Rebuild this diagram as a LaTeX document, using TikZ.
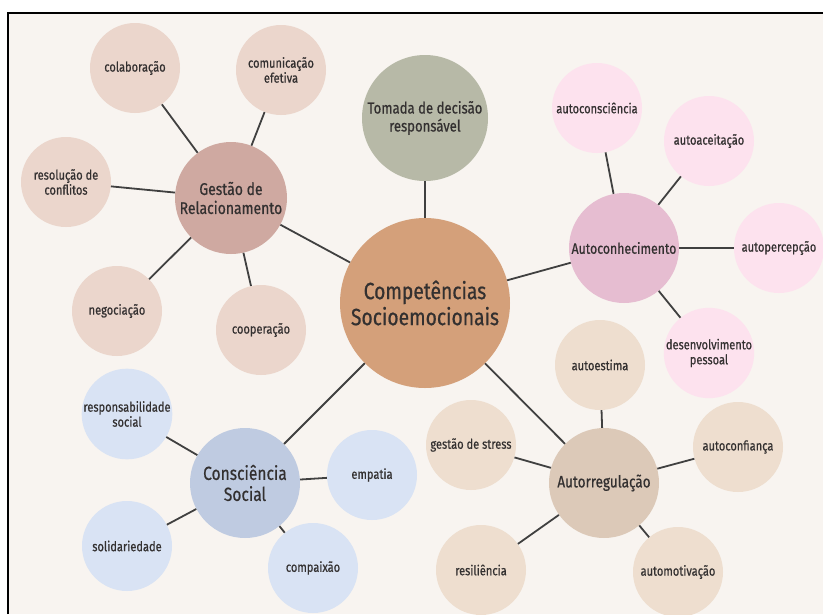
\documentclass[tikz,border=0pt]{standalone}
\usepackage{fontspec}
\setmainfont{Fira Sans}[FakeStretch=0.82, FakeBold=0.6]
\usepackage{tikz}
\usetikzlibrary{positioning,calc}

\definecolor{paper}{HTML}{F8F4F0}
\definecolor{ink}{HTML}{333030}
\definecolor{wire}{HTML}{404040}
\definecolor{coreC}{HTML}{D4A07A}
\definecolor{tomadaC}{HTML}{B7B9A7}
\definecolor{gestaoC}{HTML}{CFA9A1}
\definecolor{gestaoL}{HTML}{EBD6CC}
\definecolor{autoC}{HTML}{E6BDD1}
\definecolor{autoL}{HTML}{FDE2EE}
\definecolor{regC}{HTML}{DCC9B8}
\definecolor{regL}{HTML}{EEDECF}
\definecolor{socC}{HTML}{BFCBE1}
\definecolor{socL}{HTML}{D9E3F4}

\begin{document}
\begin{tikzpicture}[
			x=1pt, y=-1pt,
			ball/.style={circle, inner sep=0pt, text=ink, align=center},
			core/.style={ball, fill=coreC, minimum size=170pt, font=\fontsize{23.5}{26}\selectfont},
			hub/.style={ball, minimum size=110pt, font=\fontsize{16}{18}\selectfont},
			leaf/.style={ball, minimum size=90pt, font=\fontsize{13.5}{15}\selectfont},
			wire/.style={draw=wire, line width=1.8pt}]
		% fundo e moldura
		\useasboundingbox (0,0) rectangle (823,614);
		\fill[white] (0,0) rectangle (823,614);
		\fill[paper] (8,13) rectangle (823,614);
		\draw[black, line width=2.5pt] (8,614) -- (8,13) -- (823,13);

		% centro
		\path 	(425,303) node (comp) [core] {Competências\\Socioemocionais}
		        (425,118) node (tomada) [hub, fill=tomadaC, minimum size=126pt] {Tomada de decisão\\responsável};

		% gestão de relacionamento
		\path 	(231,198) node (gestao) [hub, fill=gestaoC, minimum size=112pt, font=\fontsize{17}{19}\selectfont] {Gestão de\\Relacionamento}
		        (135,68)  node (colab) [leaf, fill=gestaoL] {colaboração}
		        (281,70)  node (comun) [leaf, fill=gestaoL] {comunicação\\efetiva}
		        (66,182)  node (resol) [leaf, fill=gestaoL] {resolução de\\conflitos}
		        (117,311) node (negoc) [leaf, fill=gestaoL] {negociação}
		        (261,330) node (coop)  [leaf, fill=gestaoL] {cooperação};

		% autoconhecimento
		\path 	(624,248) node (autocon) [hub, fill=autoC, font=\fontsize{15}{17}\selectfont] {Autoconhecimento}
		        (597,108) node (aconsc) [leaf, fill=autoL] {autoconsciência}
		        (709,141) node (aaceit) [leaf, fill=autoL] {autoaceitação}
		        (779,248) node (aperc)  [leaf, fill=autoL] {autopercepção}
		        (709,353) node (desenv) [leaf, fill=autoL] {desenvolvimento\\pessoal};

		% autorregulação
		\path 	(604,483) node (autoreg) [hub, fill=regC, font=\fontsize{16.5}{19}\selectfont] {Autorregulação}
		        (600,365) node (aestima) [leaf, fill=regL] {autoestima}
		        (738,447) node (aconf)   [leaf, fill=regL] {autoconfiança}
		        (471,445) node (stress)  [leaf, fill=regL] {gestão de stress}
		        (481,570) node (resil)   [leaf, fill=regL] {resiliência}
		        (678,572) node (amotiv)  [leaf, fill=regL] {automotivação};

		% consciência social
		\path 	(245,483) node (social) [hub, fill=socC, font=\fontsize{19}{21}\selectfont] {Consciência\\Social}
		        (127,414) node (respon) [leaf, fill=socL] {responsabilidade\\social}
		        (127,546) node (solid)  [leaf, fill=socL] {solidariedade}
		        (372,475) node (empat)  [leaf, fill=socL] {empatia}
		        (313,568) node (compa)  [leaf, fill=socL] {compaixão};

		\draw [wire] (comp) -- (tomada) (comp) -- (gestao) (comp) -- (autocon) (comp) -- (autoreg) (comp) -- (social);
		\draw [wire] (gestao) -- (colab) (gestao) -- (comun) (gestao) -- (resol) (gestao) -- (negoc) (gestao) -- (coop);
		\draw [wire] (autocon) -- (aconsc) (autocon) -- (aaceit) (autocon) -- (aperc) (autocon) -- (desenv);
		\draw [wire] (autoreg) -- (aestima) (autoreg) -- (aconf) (autoreg) -- (stress) (autoreg) -- (resil) (autoreg) -- (amotiv);
		\draw [wire] (social) -- (respon) (social) -- (solid) (social) -- (empat) (social) -- (compa);
	\end{tikzpicture}
\end{document}
